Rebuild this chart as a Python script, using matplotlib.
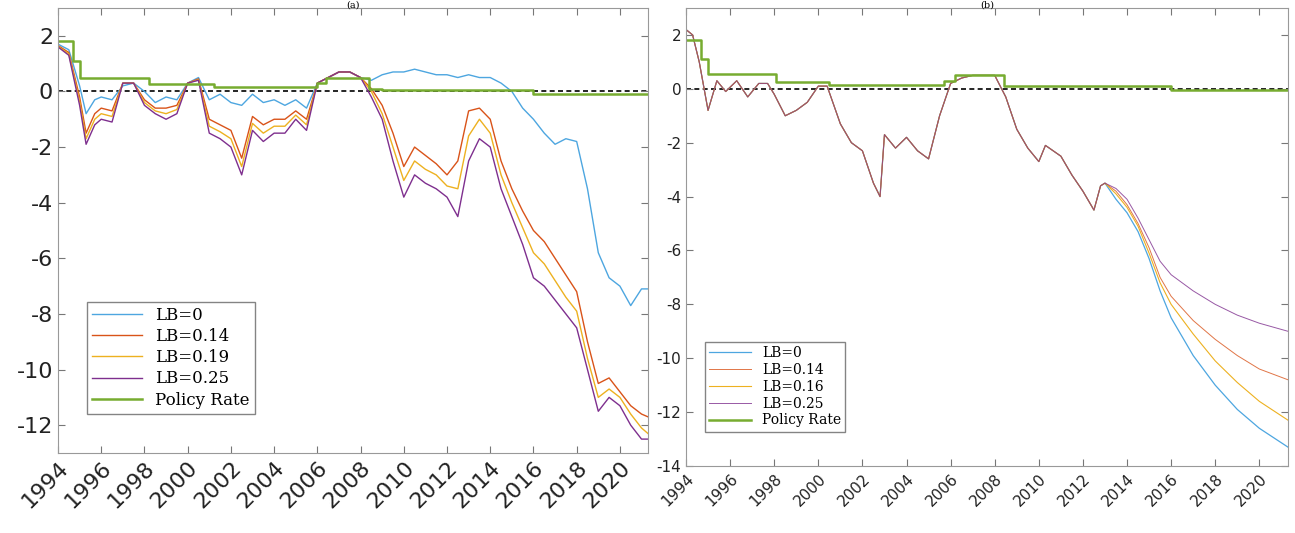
import matplotlib
matplotlib.use("Agg")
import matplotlib.pyplot as plt
import numpy as np

plt.rcParams['axes.unicode_minus'] = False

# ---------- Panel (a) ----------
ta = [1994,1994.5,1995,1995.3,1995.7,1996,1996.5,1997,1997.5,1998,1998.5,1999,1999.5,2000,2000.5,
      2001,2001.5,2002,2002.5,2003,2003.5,2004,2004.5,2005,2005.5,2006,2006.5,2007,2007.5,2008,2008.5,
      2009,2009.5,2010,2010.5,2011,2011.5,2012,2012.5,2013,2013.5,2014,2014.5,2015,2015.5,2016,2016.5,
      2017,2017.5,2018,2018.5,2019,2019.5,2020,2020.5,2021,2021.3]
a_lb0 = [1.7,1.5,0.2,-0.8,-0.3,-0.2,-0.3,0.2,0.3,0.0,-0.4,-0.2,-0.3,0.3,0.5,
         -0.3,-0.1,-0.4,-0.5,-0.1,-0.4,-0.3,-0.5,-0.3,-0.6,0.3,0.5,0.7,0.7,0.5,0.4,
         0.6,0.7,0.7,0.8,0.7,0.6,0.6,0.5,0.6,0.5,0.5,0.3,0.0,-0.6,-1.0,-1.5,
         -1.9,-1.7,-1.8,-3.5,-5.8,-6.7,-7.0,-7.7,-7.1,-7.1]
a_lb014 = [1.65,1.4,-0.2,-1.5,-0.8,-0.6,-0.7,0.3,0.3,-0.3,-0.6,-0.6,-0.5,0.3,0.45,
           -1.0,-1.2,-1.4,-2.4,-0.9,-1.2,-1.0,-1.0,-0.7,-1.0,0.3,0.5,0.7,0.7,0.5,0.1,
           -0.5,-1.5,-2.7,-2.0,-2.3,-2.6,-3.0,-2.5,-0.7,-0.6,-1.0,-2.5,-3.5,-4.3,-5.0,-5.4,
           -6.0,-6.6,-7.2,-9.0,-10.5,-10.3,-10.8,-11.3,-11.6,-11.7]
a_lb019 = [1.62,1.35,-0.35,-1.7,-1.0,-0.8,-0.9,0.3,0.3,-0.4,-0.7,-0.8,-0.65,0.3,0.42,
           -1.25,-1.45,-1.7,-2.7,-1.15,-1.5,-1.25,-1.25,-0.85,-1.2,0.3,0.5,0.7,0.7,0.5,0.0,
           -0.8,-2.0,-3.2,-2.5,-2.8,-3.0,-3.4,-3.5,-1.6,-1.0,-1.5,-3.0,-4.0,-4.9,-5.8,-6.2,
           -6.8,-7.4,-7.9,-9.6,-11.0,-10.7,-11.0,-11.6,-12.1,-12.3]
a_lb025 = [1.6,1.3,-0.5,-1.9,-1.2,-1.0,-1.1,0.3,0.3,-0.5,-0.8,-1.0,-0.8,0.3,0.4,
           -1.5,-1.7,-2.0,-3.0,-1.4,-1.8,-1.5,-1.5,-1.0,-1.4,0.3,0.5,0.7,0.7,0.5,-0.2,
           -1.0,-2.5,-3.8,-3.0,-3.3,-3.5,-3.8,-4.5,-2.5,-1.7,-2.0,-3.5,-4.5,-5.5,-6.7,-7.0,
           -7.5,-8.0,-8.5,-10.0,-11.5,-11.0,-11.3,-12.0,-12.5,-12.5]
tpa = [1994,1994.7,1995.0,1998.2,2001.2,2006.0,2006.4,2008.4,2009.0,2016.0,2021.3]
pa  = [1.8,1.1,0.5,0.25,0.15,0.3,0.5,0.1,0.05,-0.1,-0.1]

# ---------- Panel (b) ----------
tb = [1994,1994.3,1994.6,1995,1995.4,1995.8,1996.3,1996.8,1997.3,1997.7,1998,1998.5,1999,1999.5,2000,2000.4,
      2001,2001.5,2002,2002.5,2002.8,2003,2003.5,2004,2004.5,2005,2005.5,2006,2006.5,2007,2007.5,2008,2008.5,
      2009,2009.5,2010,2010.3,2011,2011.5,2012,2012.5,2012.8,2013,
      2013.5,2014,2014.5,2015,2015.5,2016,2017,2018,2019,2020,2021.3]
b_common = [2.2,2.0,1.0,-0.8,0.3,-0.1,0.3,-0.3,0.2,0.2,-0.2,-1.0,-0.8,-0.5,0.1,0.1,
            -1.3,-2.0,-2.3,-3.5,-4.0,-1.7,-2.2,-1.8,-2.3,-2.6,-1.0,0.2,0.4,0.5,0.5,0.5,-0.3,
            -1.5,-2.2,-2.7,-2.1,-2.5,-3.2,-3.8,-4.5,-3.6,-3.5]
b_lb0 = b_common + [-4.1,-4.6,-5.3,-6.3,-7.5,-8.5,-9.9,-11.0,-11.9,-12.6,-13.3]
b_lb014 = b_common + [-3.8,-4.3,-5.0,-5.9,-7.0,-7.7,-8.6,-9.3,-9.9,-10.4,-10.8]
b_lb016 = b_common + [-3.9,-4.4,-5.1,-6.1,-7.2,-8.0,-9.1,-10.1,-10.9,-11.6,-12.3]
b_lb025 = b_common + [-3.7,-4.1,-4.8,-5.6,-6.4,-6.9,-7.5,-8.0,-8.4,-8.7,-9.0]
tpb = [1994,1994.7,1995.0,1998.1,2000.5,2005.7,2006.2,2008.4,2016.0,2021.3]
pb  = [1.8,1.1,0.55,0.25,0.15,0.3,0.5,0.1,-0.05,-0.05]

years = list(range(1994, 2021, 2))
C_BLUE, C_OR, C_YE, C_PU, C_GR = "#4DA6E0", "#D95319", "#EDB120", "#7E2F8E", "#77AC30"

fig = plt.figure(figsize=(12.95, 5.33), dpi=100)
axa = fig.add_axes([58/1295, 1-453/533, 590/1295, 445/533])
axb = fig.add_axes([686/1295, 1-466/533, 602/1295, 458/533])

def style(ax, fs):
    for s in ax.spines.values():
        s.set_color("#999999")
    ax.tick_params(direction="in", top=True, right=True, color="#777777", labelsize=fs,
                   length=5, labelcolor="#222222")
    ax.set_xticks(years)
    ax.set_xticklabels([str(y) for y in years], rotation=45, ha="right", rotation_mode="anchor")
    ax.set_xlim(1994, 2021.3)
    ax.axhline(0, color="black", ls="--", lw=1.2, dashes=(3, 2), zorder=1)

lf = dict(family="DejaVu Serif")
axa.plot(ta, a_lb0, color=C_BLUE, lw=1, label="LB=0")
axa.plot(ta, a_lb014, color=C_OR, lw=1, label="LB=0.14")
axa.plot(ta, a_lb019, color=C_YE, lw=1, label="LB=0.19")
axa.plot(ta, a_lb025, color=C_PU, lw=1, label="LB=0.25")
axa.step(tpa, pa, where="post", color=C_GR, lw=1.8, label="Policy Rate")
style(axa, 16)
axa.set_ylim(-13, 3)
axa.set_yticks([2, 0, -2, -4, -6, -8, -10, -12])
axa.legend(loc="lower left", bbox_to_anchor=(0.035, 0.07), prop=dict(family="DejaVu Serif", size=12),
           fancybox=False, edgecolor="#666666", handlelength=3, borderpad=0.3, labelspacing=0.25)

axb.plot(tb, b_lb0, color=C_BLUE, lw=0.9, label="LB=0")
axb.plot(tb, b_lb014, color=C_OR, lw=0.7, alpha=0.8, label="LB=0.14")
axb.plot(tb, b_lb016, color=C_YE, lw=0.8, label="LB=0.16")
axb.plot(tb, b_lb025, color=C_PU, lw=0.7, alpha=0.8, label="LB=0.25")
axb.step(tpb, pb, where="post", color=C_GR, lw=1.8, label="Policy Rate")
style(axb, 11)
axb.set_ylim(-14, 3)
axb.set_yticks([2, 0, -2, -4, -6, -8, -10, -12, -14])
axb.legend(loc="lower left", bbox_to_anchor=(0.02, 0.06), prop=dict(family="DejaVu Serif", size=10),
           fancybox=False, edgecolor="#666666", handlelength=3, borderpad=0.3, labelspacing=0.2)

fig.text(353/1295, 0.999, "(a)", ha="center", va="top", fontsize=7, **lf)
fig.text(987/1295, 0.999, "(b)", ha="center", va="top", fontsize=7, **lf)

fig.savefig("out.png", dpi=100, facecolor="white")
